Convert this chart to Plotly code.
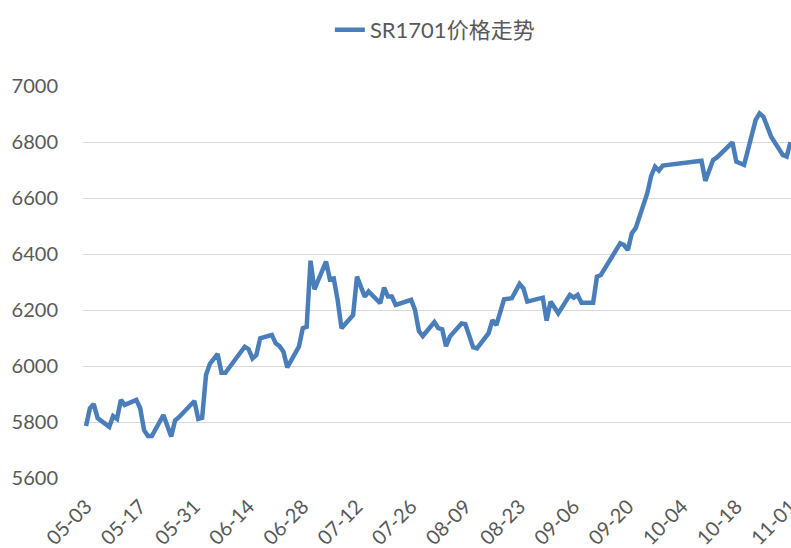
import plotly.graph_objects as go

# ---- data ----
dates = [
    "2016-05-03", "2016-05-04", "2016-05-05", "2016-05-06", "2016-05-09", "2016-05-10",
    "2016-05-11", "2016-05-12", "2016-05-13", "2016-05-16", "2016-05-17", "2016-05-18",
    "2016-05-19", "2016-05-20", "2016-05-23", "2016-05-25", "2016-05-26", "2016-05-27",
    "2016-05-31", "2016-06-01", "2016-06-02", "2016-06-03", "2016-06-04", "2016-06-06",
    "2016-06-07", "2016-06-08", "2016-06-13", "2016-06-14", "2016-06-15", "2016-06-16",
    "2016-06-17", "2016-06-20", "2016-06-21", "2016-06-22", "2016-06-23", "2016-06-24",
    "2016-06-27", "2016-06-28", "2016-06-29", "2016-06-30", "2016-07-01", "2016-07-04",
    "2016-07-05", "2016-07-06", "2016-07-07", "2016-07-08", "2016-07-11", "2016-07-12",
    "2016-07-14", "2016-07-15", "2016-07-18", "2016-07-19", "2016-07-20", "2016-07-21",
    "2016-07-22", "2016-07-26", "2016-07-27", "2016-07-28", "2016-07-29", "2016-08-01",
    "2016-08-02", "2016-08-03", "2016-08-04", "2016-08-05", "2016-08-08", "2016-08-09",
    "2016-08-11", "2016-08-12", "2016-08-15", "2016-08-16", "2016-08-17", "2016-08-19",
    "2016-08-21", "2016-08-23", "2016-08-24", "2016-08-25", "2016-08-29", "2016-08-30",
    "2016-08-31", "2016-09-02", "2016-09-05", "2016-09-06", "2016-09-07", "2016-09-08",
    "2016-09-11", "2016-09-12", "2016-09-13", "2016-09-18", "2016-09-19", "2016-09-20",
    "2016-09-21", "2016-09-22", "2016-09-25", "2016-09-26", "2016-09-27", "2016-09-28",
    "2016-09-29", "2016-10-09", "2016-10-10", "2016-10-12", "2016-10-13", "2016-10-17",
    "2016-10-18", "2016-10-20", "2016-10-23", "2016-10-24", "2016-10-25", "2016-10-27",
    "2016-10-30", "2016-10-31", "2016-11-01",
]
prices = [
    5786, 5849, 5864, 5814, 5783, 5821,
    5811, 5879, 5861, 5879, 5849, 5771,
    5750, 5750, 5825, 5748, 5805, 5817,
    5875, 5811, 5815, 5968, 6008, 6043,
    5976, 5976, 6069, 6060, 6027, 6039,
    6099, 6111, 6081, 6071, 6051, 5995,
    6069, 6135, 6140, 6376, 6274, 6373,
    6310, 6313, 6236, 6135, 6182, 6319,
    6248, 6266, 6224, 6280, 6248, 6248,
    6218, 6236, 6200, 6125, 6107, 6157,
    6135, 6131, 6071, 6105, 6152, 6149,
    6067, 6063, 6117, 6164, 6146, 6238,
    6242, 6293, 6277, 6230, 6244, 6162,
    6230, 6188, 6254, 6244, 6254, 6226,
    6226, 6319, 6325, 6438, 6432, 6414,
    6474, 6492, 6617, 6679, 6712, 6698,
    6716, 6733, 6661, 6736, 6745, 6799,
    6730, 6718, 6879, 6902, 6890, 6819,
    6754, 6748, 6800,
]
series_name = "SR1701价格走势"

x_tick_dates = [
    "2016-05-03", "2016-05-17", "2016-05-31", "2016-06-14", "2016-06-28", "2016-07-12",
    "2016-07-26", "2016-08-09", "2016-08-23", "2016-09-06", "2016-09-20", "2016-10-04",
    "2016-10-18", "2016-11-01",
]
x_tick_labels = [
    "05-03", "05-17", "05-31", "06-14", "06-28", "07-12", "07-26",
    "08-09", "08-23", "09-06", "09-20", "10-04", "10-18", "11-01",
]
y_ticks = [5600, 5800, 6000, 6200, 6400, 6600, 6800, 7000]

# ---- figure ----
TXT = "#595959"
fig = go.Figure()
fig.add_trace(go.Scatter(
    x=dates, y=prices, mode="lines", name=series_name,
    line=dict(color="#4A7EBB", width=4.5),
    showlegend=True,
))

fig.update_layout(
    width=791, height=548,
    margin=dict(l=83, r=0, t=86, b=70, autoexpand=False),
    paper_bgcolor="white", plot_bgcolor="white",
    font=dict(family="Lato, Noto Sans CJK SC, sans-serif", color=TXT, size=20),
    showlegend=True,
    legend=dict(
        orientation="h", x=0.497, xanchor="center", y=1.143, yanchor="middle",
        font=dict(size=22, color=TXT, family="Lato, Noto Sans CJK SC, sans-serif"),
        bgcolor="rgba(0,0,0,0)",
    ),
    xaxis=dict(
        type="date",
        range=["2016-05-02 05:17", "2016-11-01 03:00"],
        tickmode="array", tickvals=x_tick_dates, ticktext=x_tick_labels,
        tickangle=-45, showgrid=False, zeroline=False, showline=False,
        ticks="", ticklabelstandoff=12, automargin=False,
        ticklabeloverflow="allow",
        tickfont=dict(size=20, color=TXT),
    ),
    yaxis=dict(
        range=[5600, 7000], tickmode="array", tickvals=y_ticks,
        showgrid=True, gridcolor="#D9D9D9", gridwidth=1.3,
        zeroline=False, showline=False, ticks="", ticklabelstandoff=24,
        automargin=False,
        tickfont=dict(size=20, color=TXT),
    ),
)

fig.write_html(
    "out.html",
    config={"displayModeBar": False},
    post_script=(
        "document.documentElement.style.margin='0';"
        "document.documentElement.style.overflow='hidden';"
        "document.body.style.margin='0';"
        "document.body.style.overflow='hidden';"
    ),
)
